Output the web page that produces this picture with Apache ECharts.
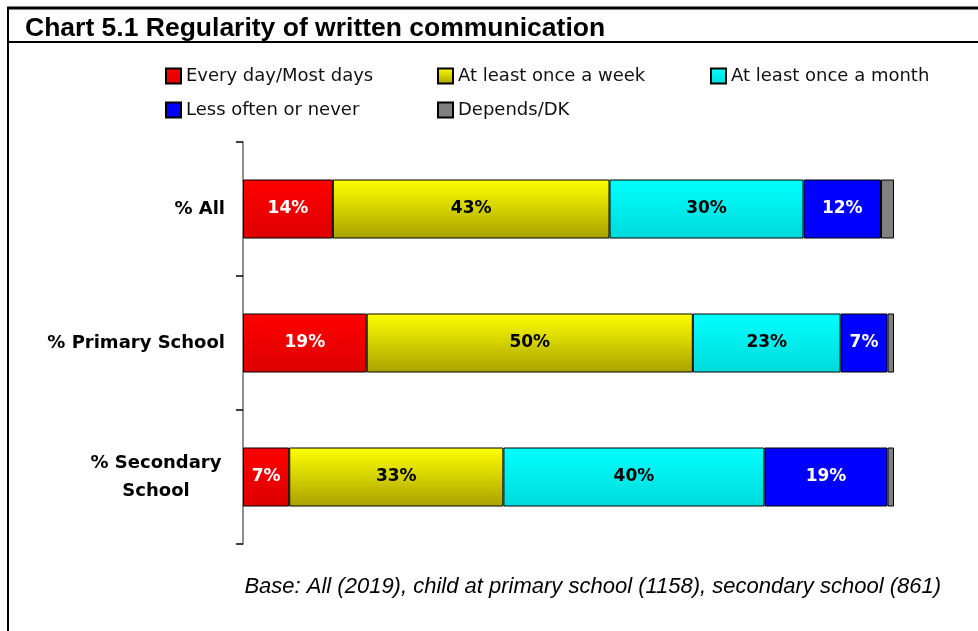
<!DOCTYPE html>
<html>
<head>
<meta charset="utf-8">
<script src="https://cdn.jsdelivr.net/npm/echarts@6/dist/echarts.min.js"></script>
<style>html,body{margin:0;padding:0;background:#fff;}#c{width:978px;height:631px;}</style>
</head>
<body>
<div id="c"></div>
<script>
const categories = ['% All', '% Primary School', '% Secondary\nSchool'];
const seriesNames = ['Every day/Most days', 'At least once a week', 'At least once a month', 'Less often or never', 'Depends/DK'];
const everyDay = [13.8, 19.0, 7.1];
const onceWeek = [42.5, 50.1, 32.9];
const onceMonth = [29.8, 22.7, 40.1];
const lessOften = [11.9, 7.2, 18.9];
const dependsDK = [2.0, 1.0, 1.0];
const titleText = 'Chart 5.1 Regularity of written communication';
const baseText = 'Base: All (2019), child at primary school (1158), secondary school (861)';

const seriesData = [everyDay, onceWeek, onceMonth, lessOften, dependsDK];
const grad = (a, b) => new echarts.graphic.LinearGradient(0, 0, 0, 1, [{offset: 0, color: a}, {offset: 1, color: b}]);
const fills = [grad('#ff0000', '#dc0000'), grad('#ffff00', '#a8a200'), grad('#00ffff', '#00dada'), '#0000ff', '#808080'];
const labelColors = ['#ffffff', '#000000', '#000000', '#ffffff', null];

// legend grid placement: [left, top] per legend entry
const legendPos = [[165, 67], [437, 67], [710, 67], [165, 101], [437, 101]];

const chart = echarts.init(document.getElementById('c'), null, {renderer: 'canvas'});
const legendText = {fontFamily: 'DejaVu Sans', fontSize: 18, color: '#111'};
chart.setOption({
  animation: false,
  backgroundColor: '#fff',
  title: [
    {text: titleText, left: 20, top: 10, textStyle: {fontFamily: 'Liberation Sans', fontWeight: 'bold', fontSize: 26.5, color: '#000'}},
    {text: baseText, right: 32, top: 571, textStyle: {fontFamily: 'Liberation Sans', fontStyle: 'italic', fontWeight: 'normal', fontSize: 22, color: '#000'}}
  ],
  graphic: [
    {type: 'line', shape: {x1: 7, y1: 8, x2: 978, y2: 8}, style: {stroke: '#000', lineWidth: 3}},
    {type: 'line', shape: {x1: 8, y1: 7, x2: 8, y2: 631}, style: {stroke: '#000', lineWidth: 2}},
    {type: 'line', shape: {x1: 8, y1: 42, x2: 978, y2: 42}, style: {stroke: '#000', lineWidth: 2}}
  ],
  legend: seriesNames.map((n, i) => ({
    data: [n], left: legendPos[i][0], top: legendPos[i][1], padding: 0,
    icon: 'rect', itemWidth: 15, itemHeight: 15, selectedMode: false, textStyle: legendText
  })),
  grid: {left: 243, right: 84, top: 142, bottom: 87},
  xAxis: {type: 'value', min: 0, max: 100, show: false},
  yAxis: {
    type: 'category', data: categories, inverse: true,
    axisLine: {show: true, lineStyle: {color: '#6a6a6a', width: 1.5}},
    axisTick: {show: true, length: 7, lineStyle: {color: '#000', width: 1.5}},
    axisLabel: {
      margin: 18,
      formatter: v => v.indexOf('\n') >= 0 ? v.split('\n').map(s => '{c|' + s + '}').join('\n') : '{b|' + v + '}',
      rich: {
        b: {fontFamily: 'DejaVu Sans', fontWeight: 'bold', fontSize: 18, color: '#000'},
        c: {fontFamily: 'DejaVu Sans', fontWeight: 'bold', fontSize: 18, color: '#000', width: 138, align: 'center', lineHeight: 28}
      }
    }
  },
  series: seriesNames.map((name, i) => ({
    name, type: 'bar', stack: 'total', barWidth: 59,
    data: seriesData[i],
    itemStyle: {color: fills[i], borderColor: '#000', borderWidth: 1},
    label: labelColors[i] ? {
      show: true, position: 'inside', color: labelColors[i],
      fontFamily: 'DejaVu Sans', fontWeight: 'bold', fontSize: 17,
      formatter: p => Math.round(p.value) + '%'
    } : {show: false}
  }))
});
</script>
</body>
</html>
